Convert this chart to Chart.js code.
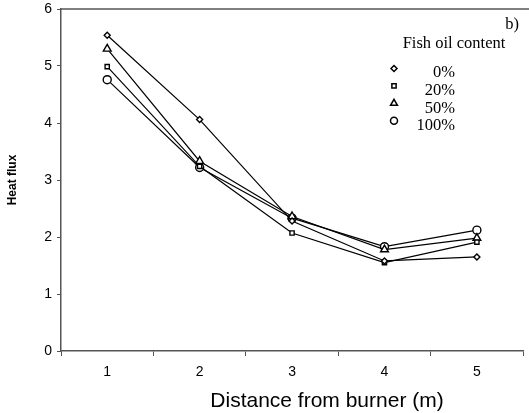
<!DOCTYPE html>
<html>
<head>
<meta charset="utf-8">
<script src="https://cdn.jsdelivr.net/npm/chart.js@4/dist/chart.umd.min.js"></script>
<style>
  html, body { margin: 0; padding: 0; background: #fff; }
  #wrap { width: 529px; height: 413px; }
</style>
</head>
<body>
<div id="wrap"><canvas id="heat"></canvas></div>
<script>
var distances = ["1", "2", "3", "4", "5"];
var oil0 = [5.54, 4.06, 2.28, 1.58, 1.65];
var oil20 = [4.99, 3.24, 2.07, 1.55, 1.91];
var oil50 = [5.30, 3.33, 2.36, 1.78, 1.98];
var oil100 = [4.76, 3.22, 2.33, 1.83, 2.12];
var yTicks = [0, 1, 2, 3, 4, 5, 6];

var legendRows = [
  { label: "0%", style: "rectRot", r: 3 },
  { label: "20%", style: "rect", r: 3 },
  { label: "50%", style: "triangle", r: 4 },
  { label: "100%", style: "circle", r: 3.5 },
];

function series(label, data, style, r) {
  return {
    label: label,
    data: data,
    borderColor: "#000",
    borderWidth: 1.2,
    backgroundColor: "#fff",
    pointStyle: style,
    pointRadius: r,
    pointBorderColor: "#000",
    pointBorderWidth: 1.4,
    pointBackgroundColor: "#fff",
    tension: 0,
  };
}

var extras = {
  id: "extras",
  afterDraw: function (chart) {
    var c = chart.ctx;
    var area = chart.chartArea;
    c.save();
    // top border of plot area
    c.strokeStyle = "#555";
    c.lineWidth = 1.5;
    c.beginPath();
    c.moveTo(area.left, area.top);
    c.lineTo(chart.width, area.top);
    c.stroke();

    c.fillStyle = "#000";
    c.font = "16.5px 'Liberation Serif', 'Times New Roman', serif";
    c.textBaseline = "middle";
    c.textAlign = "center";
    c.fillText("b)", 512, 25);
    c.fillText("Fish oil content", 454, 44);
    c.textAlign = "right";
    legendRows.forEach(function (row, i) {
      c.fillStyle = "#000";
      c.fillText(row.label, 455, 73 + i * 17.7);
      c.lineWidth = 1.5;
      c.strokeStyle = "#000";
      c.fillStyle = "#fff";
      Chart.helpers.drawPoint(c, { pointStyle: row.style, radius: row.r, borderWidth: 1.5 }, 394, 68.5 + i * 17.4);
    });

    // axis titles
    c.fillStyle = "#000";
    c.textAlign = "center";
    c.font = "21px 'Liberation Sans', Arial, sans-serif";
    c.fillText("Distance from burner (m)", 327, 401);
    c.translate(13, (area.top + area.bottom) / 2);
    c.rotate(-Math.PI / 2);
    c.font = "bold 12px 'Liberation Sans', Arial, sans-serif";
    c.fillText("Heat flux", 0, 0);
    c.restore();
  },
};

new Chart(document.getElementById("heat").getContext("2d"), {
  type: "line",
  data: {
    labels: distances,
    datasets: [
      series("0%", oil0, "rectRot", 3),
      series("20%", oil20, "rect", 3),
      series("50%", oil50, "triangle", 4.5),
      series("100%", oil100, "circle", 4),
    ],
  },
  options: {
    responsive: true,
    maintainAspectRatio: false,
    animation: false,
    layout: { padding: { top: 9, right: 3, left: 0, bottom: 0 } },
    plugins: { legend: { display: false }, tooltip: { enabled: false } },
    scales: {
      x: {
        type: "category",
        offset: true,
        grid: {
          offset: true,
          drawOnChartArea: false,
          drawTicks: true,
          tickLength: 5,
          color: "#555",
        },
        border: { color: "#555", width: 1.5 },
        ticks: {
          color: "#000",
          padding: 8,
          font: { family: "'Liberation Sans', Arial, sans-serif", size: 14 },
        },
        afterFit: function (scale) {
          scale.height = 62;
          scale.paddingLeft = 0;
          scale.paddingRight = 0;
        },
      },
      y: {
        min: 0,
        max: 6,
        afterBuildTicks: function (scale) {
          scale.ticks = yTicks.map(function (v) { return { value: v }; });
        },
        grid: {
          drawOnChartArea: false,
          drawTicks: true,
          tickLength: 4,
          color: "#555",
        },
        border: { color: "#555", width: 1.5 },
        ticks: {
          color: "#000",
          padding: 5,
          font: { family: "'Liberation Sans', Arial, sans-serif", size: 14 },
        },
        afterFit: function (scale) {
          scale.width = 61;
          scale.paddingTop = 0;
          scale.paddingBottom = 0;
        },
      },
    },
  },
  plugins: [extras],
});
</script>
</body>
</html>
